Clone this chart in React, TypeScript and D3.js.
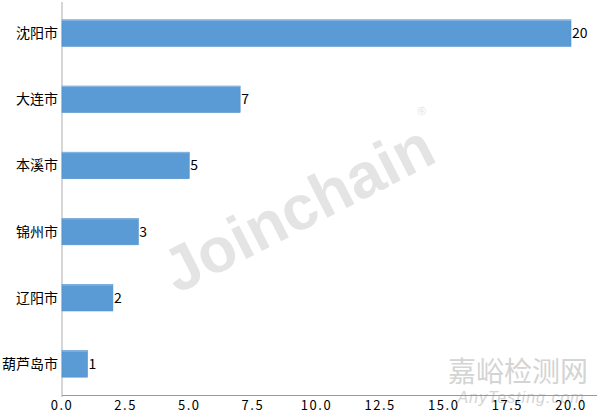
import React from "react";
import * as d3 from "d3";

const categories = ["沈阳市", "大连市", "本溪市", "锦州市", "辽阳市", "葫芦岛市"];
const values = [20, 7, 5, 3, 2, 1];
const xTicks = [0, 2.5, 5, 7.5, 10, 12.5, 15, 17.5, 20];

const W = 600;
const H = 413;
const left = 62;
const right = 571;
const top = 0;
const bottom = 397;
const FONT = "'Noto Sans CJK SC', 'Noto Sans', sans-serif";

export default function App() {
  const x = d3.scaleLinear().domain([0, 20]).range([left, right]);
  const y = d3.scaleBand<string>().domain(categories).range([top, bottom]).paddingInner(0.6).paddingOuter(0.3);
  return (
    <svg width={W} height={H} style={{ position: "absolute", left: 0, top: 0, background: "#fff" }}>
      <g transform="translate(298,208) rotate(-27)">
        <text textAnchor="middle" x={0} y={22} fontFamily="'Liberation Sans', Arial, sans-serif" fontWeight="bold" fontSize={63} fill="#e4e4e4">Joinchain</text>
        <text x={150} y={-26} fontFamily="'Liberation Sans', sans-serif" fontSize={12} fill="#e4e4e4">®</text>
      </g>
      <text x={518} y={382} textAnchor="middle" fontFamily={FONT} fontSize={28} fill="#d4d4d4">嘉峪检测网</text>
      <text x={521} y={403} textAnchor="middle" fontFamily="'Liberation Sans', sans-serif" fontStyle="italic" fontSize={16} fill="#d4d4d4" letterSpacing={1}>AnyTesting.com</text>
      <line x1={left} x2={left} y1={2} y2={bottom} stroke="#c8c8c8" strokeWidth={1.5} />
      <line x1={left} x2={597} y1={bottom - 1.5} y2={bottom - 1.5} stroke="#999" strokeWidth={1} />
      {categories.map((c, i) => {
        const y0 = y(c)!;
        const bh = y.bandwidth();
        return (
          <g key={c}>
            <rect x={x(0)} y={y0} width={x(values[i]) - x(0)} height={bh} fill="#5b9bd5" stroke="#4f8fcb" strokeWidth={0.6} />
            <line x1={x(0)} x2={x(values[i])} y1={y0 + 0.5} y2={y0 + 0.5} stroke="#8ab8e3" strokeWidth={1} />
            <text x={x(values[i]) + 1} y={y0 + bh / 2} dy="0.36em" fontFamily={FONT} fontSize={14} fill="#000">{values[i]}</text>
            <text x={left - 4} y={y0 + bh / 2} dy="0.36em" textAnchor="end" fontFamily={FONT} fontSize={14} fill="#000">{c}</text>
          </g>
        );
      })}
      {xTicks.map((t) => (
        <text key={t} x={x(t)} y={410} textAnchor="middle" fontFamily={FONT} fontSize={13} fill="#000" letterSpacing={1.5}>
          {t.toFixed(1)}
        </text>
      ))}
    </svg>
  );
}
